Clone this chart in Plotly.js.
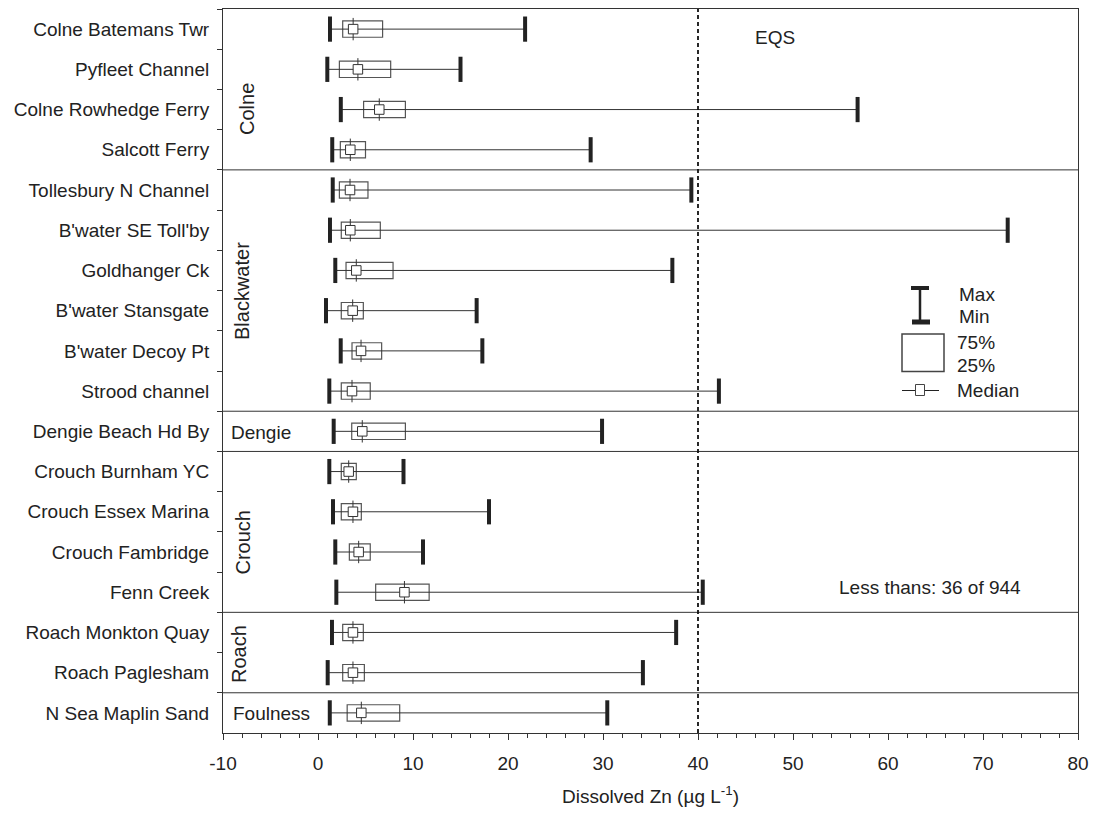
<!DOCTYPE html>
<html>
<head>
<meta charset="utf-8">
<script src="https://cdn.plot.ly/plotly-3.0.1.min.js"></script>
<style>html,body{margin:0;padding:0;background:#fff;}#chart{width:1093px;height:814px;}</style>
</head>
<body>
<div id="chart"></div>
<script>
// ---- data ----
const sites = ["Colne Batemans Twr","Pyfleet Channel","Colne Rowhedge Ferry","Salcott Ferry",
  "Tollesbury N Channel","B'water SE Toll'by","Goldhanger Ck","B'water Stansgate","B'water Decoy Pt","Strood channel",
  "Dengie Beach Hd By",
  "Crouch Burnham YC","Crouch Essex Marina","Crouch Fambridge","Fenn Creek",
  "Roach Monkton Quay","Roach Paglesham",
  "N Sea Maplin Sand"];
const minVals = [1.26,0.98,2.4,1.5, 1.55,1.26,1.82,0.84,2.39,1.19, 1.65, 1.19,1.58,1.82,1.93, 1.47,1.02, 1.24];
const q1Vals  = [2.6,2.25,4.8,2.35, 2.25,2.45,2.95,2.45,3.58,2.45, 3.55, 2.45,2.45,3.3,6.07, 2.6,2.6, 3.07];
const medVals = [3.7,4.2,6.45,3.4, 3.37,3.4,4.03,3.65,4.53,3.58, 4.66, 3.23,3.68,4.28,9.1, 3.68,3.68, 4.56];
const q3Vals  = [6.8,7.65,9.2,5.0, 5.26,6.56,7.9,4.77,6.7,5.5, 9.2, 4.03,4.56,5.5,11.7, 4.77,4.88, 8.6];
const maxVals = [21.8,15.0,56.8,28.7, 39.3,72.6,37.3,16.7,17.3,42.2, 29.9, 9.0,18.0,11.05,40.5, 37.7,34.2, 30.45];
const groups = ["Colne","Blackwater","Dengie","Crouch","Roach","Foulness"];
const groupSizes = [4,6,1,4,2,1];
const xTickVals = [-10,0,10,20,30,40,50,60,70,80];
const xTickText = ["-10","0","10","20","30","40","50","60","70","80"];
const eqsValue = 40;
const xTitle = "Dissolved Zn (µg L<sup>-1</sup>)";
const noteText = "Less thans: 36 of 944";

// ---- layout helpers ----
const W = 1093, H = 814, L = 223, R = 15, T = 9, B = 81;
const pw = W - L - R, ph = H - T - B;
const px = x => (x - L) / pw;
const py = y => (H - B - y) / ph;
const FONT = "Liberation Sans, Arial, sans-serif";
const TXT = "#222";

// whiskers
const wx = [], wy = [];
sites.forEach((s, i) => { wx.push(minVals[i], maxVals[i], null); wy.push(s, s, null); });

const traces = [
  {type:"scatter", mode:"lines", x:wx, y:wy, line:{color:"#333", width:1}, hoverinfo:"skip"},
  {type:"bar", orientation:"h", y:sites, base:q1Vals, x:q3Vals.map((v,i)=>v-q1Vals[i]), width:0.405,
   marker:{color:"rgba(0,0,0,0)", line:{color:"#555", width:1.2}}, hoverinfo:"skip"},
  {type:"scatter", mode:"markers", x:medVals, y:sites,
   marker:{symbol:"line-ns", size:16, line:{color:"#333", width:1}}, hoverinfo:"skip"},
  {type:"scatter", mode:"markers", x:medVals, y:sites,
   marker:{symbol:"square", size:9.5, color:"#fff", line:{color:"#333", width:1}}, hoverinfo:"skip"},
  {type:"scatter", mode:"markers", x:minVals.concat(maxVals), y:sites.concat(sites),
   marker:{symbol:"line-ns", size:18, line:{color:"#222", width:4}}, hoverinfo:"skip"}
];

// group separators
const shapes = [];
let acc = 0;
groupSizes.forEach((n, gi) => {
  acc += n;
  if (gi < groupSizes.length - 1) {
    shapes.push({type:"line", xref:"paper", yref:"y", x0:0, x1:1, y0:acc-0.5, y1:acc-0.5, line:{color:"#333", width:1}});
  }
});
// EQS line
shapes.push({type:"line", xref:"x", yref:"paper", x0:eqsValue, x1:eqsValue, y0:0, y1:1, line:{color:"#111", width:1.8, dash:"4px,3px"}});
// legend key
const rect = (x0,y0,x1,y1,extra) => Object.assign({type:"rect", xref:"paper", yref:"paper", x0:px(x0), x1:px(x1), y0:py(y1), y1:py(y0)}, extra);
const ln = (x0,y0,x1,y1,extra) => Object.assign({type:"line", xref:"paper", yref:"paper", x0:px(x0), x1:px(x1), y0:py(y0), y1:py(y1)}, extra);
shapes.push(ln(920,288,920,322,{line:{color:"#222", width:2.5}}));
shapes.push(rect(911,286,929,290,{fillcolor:"#222", line:{width:0}}));
shapes.push(rect(912,319.5,930,324.5,{fillcolor:"#222", line:{width:0}}));
shapes.push(rect(902,334,944,371.5,{fillcolor:"rgba(0,0,0,0)", line:{color:"#444", width:1.5}}));
shapes.push(ln(902,390.5,939,390.5,{line:{color:"#222", width:1.2}}));
shapes.push(rect(915.5,384.5,924.5,395.5,{fillcolor:"#fff", line:{color:"#444", width:1}}));

const f = {family:FONT, size:19, color:TXT};
const fg = {family:FONT, size:20, color:TXT};
const ann = (text, x, y, extra) => Object.assign({text, xref:"paper", yref:"paper", x:px(x), y:py(y), showarrow:false, font:f, xanchor:"left", yanchor:"middle"}, extra);
const annotations = [
  ann("Max", 957, 294), ann("Min", 957, 316),
  ann("75%", 955, 342), ann("25%", 955, 365),
  ann("Median", 955, 390.5),
  ann("EQS", 775, 37.5, {xanchor:"center"}),
  ann(noteText, 930, 587, {xanchor:"center"}),
  // group labels
  ann(groups[0], 247, 109, {xanchor:"center", textangle:-90, font:fg}),
  ann(groups[1], 242, 291, {xanchor:"center", textangle:-90, font:fg}),
  ann(groups[2], 229, 432),
  ann(groups[3], 242, 542.5, {xanchor:"center", textangle:-90, font:fg}),
  ann(groups[4], 239, 654, {xanchor:"center", textangle:-90, font:fg}),
  ann(groups[5], 231, 713)
];

const layout = {
  width:W, height:H,
  margin:{l:L, r:R, t:T, b:B, pad:0},
  paper_bgcolor:"#fff", plot_bgcolor:"#fff",
  showlegend:false, barmode:"overlay",
  font:{family:FONT, size:19, color:TXT},
  xaxis:{
    range:[-10,80], tickmode:"array", tickvals:xTickVals, ticktext:xTickText,
    showgrid:false, zeroline:false,
    showline:true, mirror:true, linecolor:"#333", linewidth:1,
    ticks:"outside", ticklen:6, tickcolor:"#333", tickwidth:1,
    minor:{dtick:2, tick0:0, ticks:"outside", ticklen:4, tickcolor:"#333", showgrid:false},
    tickfont:{family:FONT, size:19, color:TXT}, ticklabelstandoff:7,
    title:{text:xTitle, font:{family:FONT, size:19, color:TXT}, standoff:16}
  },
  yaxis:{
    type:"category", categoryorder:"array", categoryarray:sites,
    range:[sites.length-0.5, -0.5], showgrid:false, zeroline:false,
    showline:true, mirror:true, linecolor:"#333", linewidth:1,
    ticks:"outside", tickson:"boundaries", ticklen:5, tickcolor:"#333",
    tickfont:{family:FONT, size:19, color:TXT}, ticklabelstandoff:9
  },
  shapes, annotations
};

Plotly.newPlot("chart", traces, layout, {displayModeBar:false, staticPlot:true});
</script>
</body>
</html>
